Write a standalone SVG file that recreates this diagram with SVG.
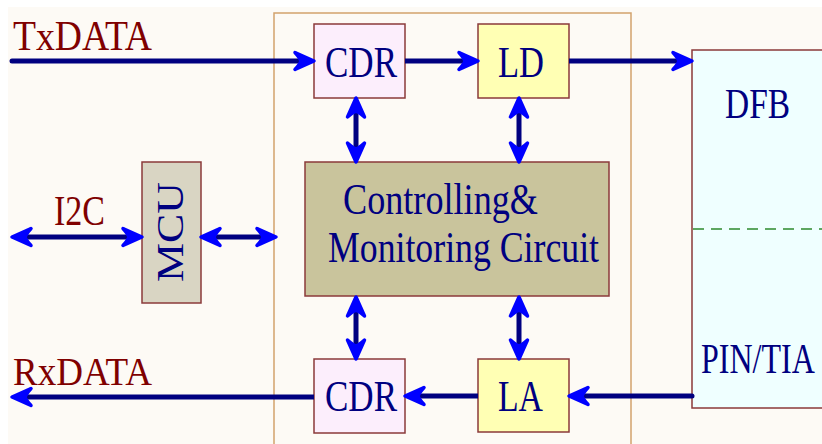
<svg xmlns="http://www.w3.org/2000/svg" width="822" height="444" viewBox="0 0 822 444">
  <style>
    text { font-family: "Liberation Serif", "Times New Roman", serif; }
    .lbl { fill: #000080; }
    .ext { fill: #800000; }
    .box { stroke: #8B3A3A; stroke-width: 1.5; }
    .cdr { fill: #FCEEFC; }
    .amp { fill: #FFFFB4; }
    .wire { fill: none; stroke: #000080; stroke-width: 5; }
    .one { marker-end: url(#ah); }
    .two { marker-start: url(#ah); marker-end: url(#ah); }
  </style>
  <defs>
    <marker id="ah" markerUnits="userSpaceOnUse" markerWidth="40" markerHeight="30" viewBox="-20 -15 40 30" refX="0" refY="0" orient="auto-start-reverse" overflow="visible">
      <path d="M8,0 L-11,-8.5 Q-6,-3 -5,0 Q-6,3 -11,8.5 Z" fill="#0000FF" stroke="#0000FF" stroke-width="3.5" stroke-linejoin="round"/>
    </marker>
  </defs>

  <rect x="0" y="0" width="822" height="444" fill="#FFFFFF"/>
  <rect x="8" y="7" width="814" height="437" fill="#FDFAF5"/>

  <g id="module">
    <rect x="274" y="13" width="357" height="440" fill="#FDFAF5" stroke="#D2A26C" stroke-width="1.5"/>
  </g>

  <g id="optics">
    <rect class="box" x="692" y="50" width="140" height="358" fill="#EFFFFF"/>
    <line x1="693" y1="229" x2="822" y2="229" stroke="#2E8B2E" stroke-width="1.5" stroke-dasharray="11,7"/>
    <text class="lbl" x="725" y="118" font-size="42" textLength="65" lengthAdjust="spacingAndGlyphs">DFB</text>
    <text class="lbl" x="0" y="0" font-size="32" transform="translate(701,373) scale(1,1.3)">PIN/TIA</text>
  </g>

  <g id="cdr-tx">
    <rect class="box cdr" x="314" y="24" width="91" height="74"/>
    <text class="lbl" x="325" y="77" font-size="45" textLength="72" lengthAdjust="spacingAndGlyphs">CDR</text>
  </g>
  <g id="ld">
    <rect class="box amp" x="478" y="24" width="91" height="74"/>
    <text class="lbl" x="498" y="77" font-size="44" textLength="46" lengthAdjust="spacingAndGlyphs">LD</text>
  </g>
  <g id="ctrl">
    <rect class="box" x="305" y="162" width="304" height="134" fill="#C9C49C"/>
    <text class="lbl" x="343" y="214" font-size="45" textLength="195" lengthAdjust="spacingAndGlyphs">Controlling&amp;</text>
    <text class="lbl" x="328" y="262" font-size="45" textLength="271" lengthAdjust="spacingAndGlyphs">Monitoring Circuit</text>
  </g>
  <g id="mcu">
    <rect class="box" x="142" y="162" width="59" height="141" fill="#D9D5C3"/>
    <text class="lbl" x="0" y="0" font-size="37" textLength="100" lengthAdjust="spacingAndGlyphs" transform="translate(183,282) rotate(-90)">MCU</text>
  </g>
  <g id="cdr-rx">
    <rect class="box cdr" x="314" y="359" width="91" height="74"/>
    <text class="lbl" x="325" y="411" font-size="45" textLength="72" lengthAdjust="spacingAndGlyphs">CDR</text>
  </g>
  <g id="la">
    <rect class="box amp" x="478" y="359" width="91" height="73"/>
    <text class="lbl" x="498" y="411" font-size="44" textLength="45" lengthAdjust="spacingAndGlyphs">LA</text>
  </g>

  <g id="labels">
    <text class="ext" x="13" y="50" font-size="42" textLength="139" lengthAdjust="spacingAndGlyphs">TxDATA</text>
    <text class="ext" x="54" y="225" font-size="42" textLength="51" lengthAdjust="spacingAndGlyphs">I2C</text>
    <text class="ext" x="13" y="385" font-size="41" textLength="139" lengthAdjust="spacingAndGlyphs">RxDATA</text>
  </g>

  <g id="connectors">
    <path class="wire one" d="M12,61 H306" stroke-linecap="round"/>
    <path class="wire one" d="M405,61 H470"/>
    <path class="wire one" d="M569,61 H684"/>
    <path class="wire two" d="M356,106 V154"/>
    <path class="wire two" d="M519,106 V154"/>
    <path class="wire two" d="M356,305 V351"/>
    <path class="wire two" d="M519,305 V351"/>
    <path class="wire two" d="M20,237 H134"/>
    <path class="wire two" d="M209,237 H268"/>
    <path class="wire one" d="M692,396 H577" stroke-linecap="round"/>
    <path class="wire one" d="M478,396 H413"/>
    <path class="wire one" d="M314,397 H20"/>
  </g>
</svg>
